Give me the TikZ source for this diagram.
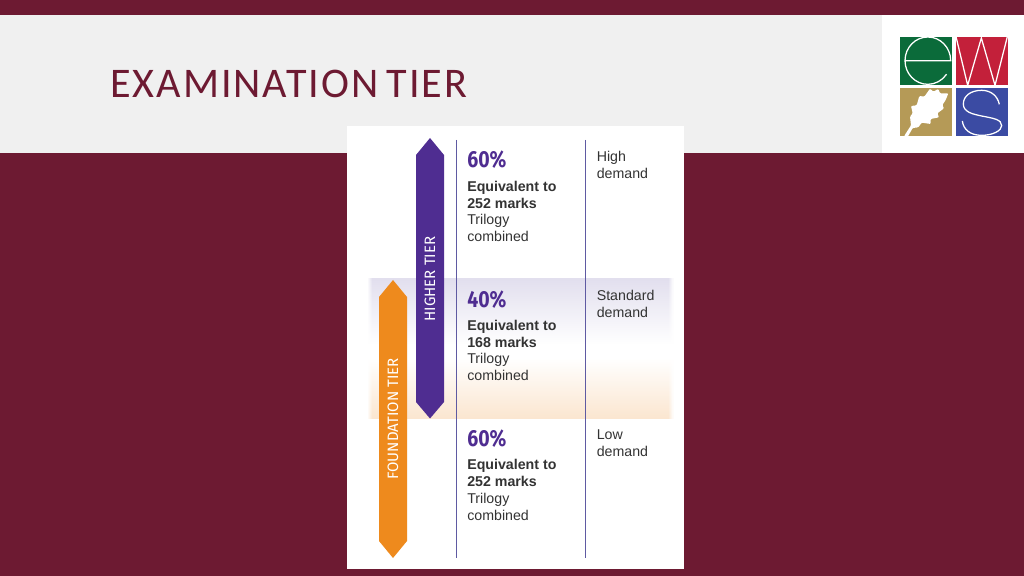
\documentclass[tikz,border=0pt]{standalone}
\usepackage{fontspec}
\setmainfont{Liberation Sans}
\newfontfamily\titlefont[LetterSpace=4.7, WordSpace=0.7]{Carlito}
\newfontfamily\dinfont{Fira Sans}
\newfontfamily\pctfont[FakeStretch=0.84]{Fira Sans}
\usetikzlibrary{fadings}
\definecolor{maroon}{HTML}{6D1A32}
\definecolor{headgray}{HTML}{F0F0F0}
\definecolor{tierpurple}{HTML}{4F2D91}
\definecolor{tierorange}{HTML}{EE8A1D}
\definecolor{bandpurple}{HTML}{E2DFEE}
\definecolor{bandorange}{HTML}{FBE6D0}
\definecolor{rulecol}{HTML}{5F5AA2}
\definecolor{bodytext}{HTML}{333333}
\definecolor{logogreen}{HTML}{0B6B3A}
\definecolor{logored}{HTML}{C3203A}
\definecolor{logogold}{HTML}{B59A57}
\definecolor{logoblue}{HTML}{3B4BA3}
\tikzset{
  percent/.style={anchor=base west, inner sep=0pt, text=tierpurple, font=\pctfont\bfseries\fontsize{16.5}{16.5}\selectfont},
  marks/.style={anchor=north west, inner sep=0pt, text=bodytext, align=left, font=\fontsize{10.1}{12.05}\selectfont},
  demand/.style={anchor=north west, inner sep=0pt, text=bodytext, align=left, font=\fontsize{10.1}{12.05}\selectfont},
  tierlabel/.style={rotate=90, inner sep=0pt, text=white, font=\dinfont\fontsize{10.7}{10.7}\selectfont},
  logoline/.style={white, line width=0.9pt}
}
\begin{document}
\begin{tikzpicture}[x=0.025cm, y=-0.025cm]
\useasboundingbox (0,0) rectangle (1024,576);

% Slide
\fill[maroon] (0,0) rectangle (1024,576);
\fill[headgray] (0,15) rectangle (882,153);
\fill[white] (882,15) rectangle (1024,153);
\node[anchor=base west, inner sep=0pt, text=maroon, font=\titlefont\fontsize{30}{30}\selectfont] (title) at (110,97.5) {EXAMINATION TIER};

% Logo
\begin{scope}[shift={(880,10)}, x=0.025cm/3, y=-0.025cm/3]
\fill[logogreen] (60,80) rectangle (217,226);
\fill[logored] (227,80) rectangle (384,226);
\fill[logogold] (60,235) rectangle (217,379);
\fill[logoblue] (227,235) rectangle (384,379);
\draw[logoline] (75,152) -- (212,152) arc (0:-180:68.5 and 71) arc (-180:-325:68.5 and 71);
\draw[logoline] (228,80) -- (263,226) -- (304,84) -- (345,226) -- (382,80);
\draw[logoline] (358,283) .. controls (352,255) and (330,241) .. (305,241)
  .. controls (272,241) and (250,258) .. (250,282)
  .. controls (250,305) and (275,312) .. (305,318)
  .. controls (340,325) and (365,328) .. (365,347)
  .. controls (365,362) and (338,376) .. (305,376)
  .. controls (270,376) and (250,358) .. (247,333);
\fill[white, rounded corners=0.7pt] (72,379) -- (93,346) -- (90,320) -- (98,310) -- (93,288) -- (110,286) -- (118,258)
  -- (133,260) -- (150,236) -- (160,245) -- (175,237) -- (180,250) -- (205,250) -- (197,270)
  -- (187,285) -- (192,295) -- (172,310) -- (177,322) -- (152,327) -- (152,342) -- (125,338)
  -- (115,352) -- (98,354) -- (84,379) -- cycle;
\end{scope}

% Panel
\fill[white] (347,126) rectangle (684,569);

% Band
\shade[top color=bandpurple, bottom color=white] (367,279) rectangle (673,345);
\shade[top color=white, bottom color=bandorange] (367,358) rectangle (673,418);
\fill[white, path fading=east] (367,278) rectangle (372,419);
\fill[white, path fading=west] (668,278) rectangle (673,419);

% Lines
\draw[rulecol, line width=0.6pt] (456.5,140) -- (456.5,558);
\draw[rulecol, line width=0.6pt] (585,140) -- (585,558);

% Arrows
\fill[tierpurple] (430,138) -- (444,155) -- (444,402) -- (430,418.5) -- (416,402) -- (416,155) -- cycle;
\fill[tierorange] (393,280) -- (407,297) -- (407,541) -- (393,558) -- (379,541) -- (379,297) -- cycle;
\node[tierlabel] (higher) at (430,279) {HIGHER TIER};
\node[tierlabel] (foundation) at (393,419) {FOUNDATION TIER};

% Top
\node[percent] (pcta) at (467,168) {60\%};
\node[marks] (marksa) at (467,180.5) {\textbf{Equivalent to}\\\textbf{252 marks}\\Trilogy\\combined};
\node[demand] (demanda) at (596.5,151) {High\\demand};

% Middle
\node[percent] (pctb) at (467,307.5) {40\%};
\node[marks] (marksb) at (467,319.5) {\textbf{Equivalent to}\\\textbf{168 marks}\\Trilogy\\combined};
\node[demand] (demandb) at (596.5,290) {Standard\\demand};

% Bottom
\node[percent] (pctc) at (467,446.5) {60\%};
\node[marks] (marksc) at (467,459) {\textbf{Equivalent to}\\\textbf{252 marks}\\Trilogy\\combined};
\node[demand] (demandc) at (596.5,429.5) {Low\\demand};

\end{tikzpicture}
\end{document}
